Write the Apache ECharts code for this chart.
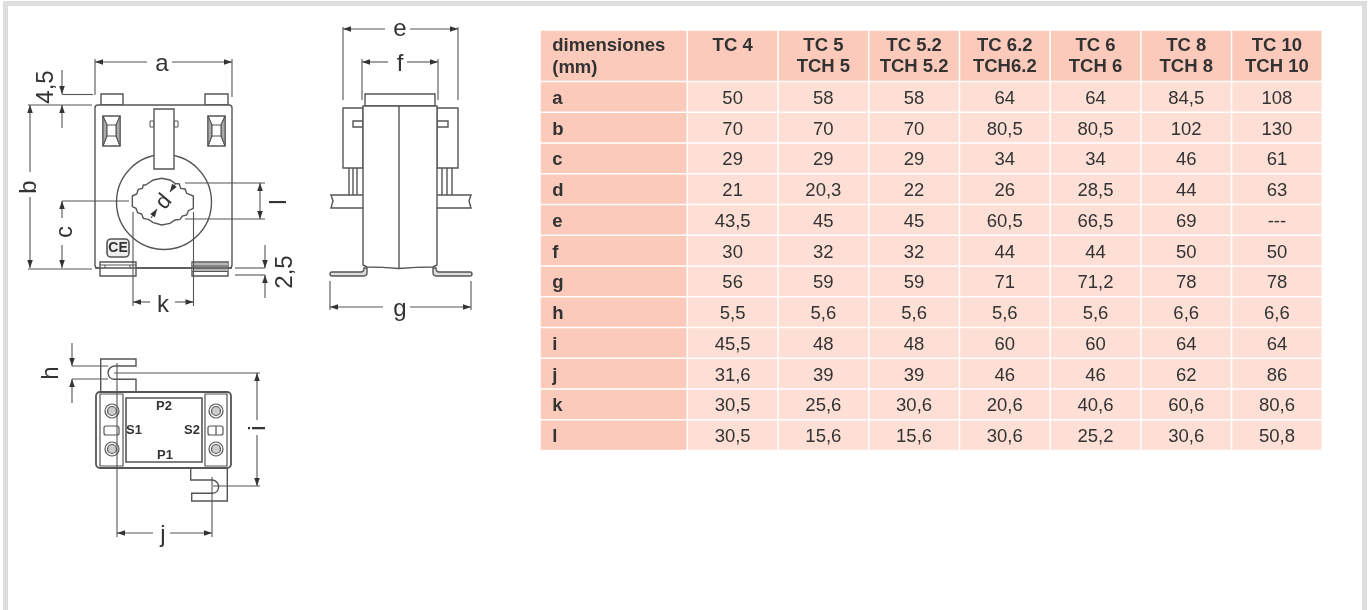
<!DOCTYPE html>
<html><head><meta charset="utf-8">
<style>html,body{margin:0;padding:0;background:#fff}#c{width:1372px;height:610px}</style>
<script src="https://cdn.jsdelivr.net/npm/echarts@6/dist/echarts.min.js"></script>
</head><body><div id="c"></div>
<script>
const cornerLabel = ['dimensiones\n(mm)'];
const models = ['TC 4','TC 5\nTCH 5','TC 5.2\nTCH 5.2','TC 6.2\nTCH6.2','TC 6\nTCH 6','TC 8\nTCH 8','TC 10\nTCH 10'];
const dims = ['a','b','c','d','e','f','g','h','i','j','k','l'];
const tc4  = ['50','70','29','21','43,5','30','56','5,5','45,5','31,6','30,5','30,5'];
const tc5  = ['58','70','29','20,3','45','32','59','5,6','48','39','25,6','15,6'];
const tc52 = ['58','70','29','22','45','32','59','5,6','48','39','30,6','15,6'];
const tc62 = ['64','80,5','34','26','60,5','44','71','5,6','60','46','20,6','30,6'];
const tc6  = ['64','80,5','34','28,5','66,5','44','71,2','5,6','60','46','40,6','25,2'];
const tc8  = ['84,5','102','46','44','69','50','78','6,6','64','62','60,6','30,6'];
const tc10 = ['108','130','61','63','---','50','78','6,6','64','86','80,6','50,8'];
const columns = [tc4,tc5,tc52,tc62,tc6,tc8,tc10];

const FONT = '"Liberation Sans", Arial, sans-serif';
const INK = '#333';
const DARK = '#fccabb', LIGHT = '#fddfd5';

function cellSeries(gridIndex, cells, fill, opts){
  return {
    type:'custom', xAxisIndex:gridIndex, yAxisIndex:gridIndex, silent:true, clip:false,
    data:cells.map(c=>[c[0],c[1]]),
    renderItem(params, api){
      const p = api.coord([api.value(0),api.value(1)]);
      const s = api.size([1,1]);
      const g = 0.75;
      const rect = {x:p[0]-s[0]/2+g,y:p[1]-s[1]/2+g,width:s[0]-2*g,height:s[1]-2*g};
      const text = cells[params.dataIndex][2];
      const tx = opts.left ? rect.x+opts.left : p[0];
      const ty = opts.top ? rect.y+opts.top : p[1]+2;
      return {type:'group',children:[
        {type:'rect',shape:rect,style:{fill:fill}},
        {type:'text',style:{text:text,x:tx,y:ty,fill:INK,align:opts.left?'left':'center',
          verticalAlign:opts.top?'top':'middle',lineHeight:opts.lh||20,
          font:(opts.bold?'bold ':'')+opts.size+'px '+FONT}}
      ]};
    }
  };
}
const grids = [
  {left:540,top:30,width:147.3,height:51.5},
  {left:687.3,top:30,width:635,height:51.5},
  {left:540,top:81.5,width:147.3,height:369},
  {left:687.3,top:81.5,width:635,height:369}
];
const xCats = [cornerLabel,models,['dim'],models];
const yCats = [['h'],['h'],dims,dims];
const bodyCells=[]; columns.forEach((col,i)=>col.forEach((v,j)=>bodyCells.push([i,j,v])));

// ---- technical drawing (decoration, not data) ----
const STROKE='#555', LW=1.4;
const G=[];
let pathN=0;
function L(x1,y1,x2,y2,w,c){G.push({type:'line',silent:true,shape:{x1,y1,x2,y2},style:{stroke:c||STROKE,lineWidth:w||1.1}});}
function R(x,y,width,height,r,fill,w){G.push({type:'rect',silent:true,shape:{x,y,width,height,r:r||0},style:{stroke:STROKE,lineWidth:w||LW,fill:fill||'#fff'}});}
function C(cx,cy,r,fill,w){G.push({type:'circle',silent:true,shape:{cx,cy,r},style:{stroke:STROKE,lineWidth:w||LW,fill:fill||'#fff'}});}
function Poly(points,fill,w){G.push({type:'polygon',silent:true,shape:{points},style:{stroke:w===0?'none':STROKE,lineWidth:w||LW,fill:fill||'#fff'}});}
function P(d,fill,w){const name='dwg'+(pathN++);echarts.graphic.registerShape(name,echarts.graphic.extendPath(d,{}));G.push({type:name,silent:true,style:{stroke:STROKE,lineWidth:w||LW,fill:fill||'none'}});}
function T(text,x,y,size,rot,bold){const dy=size>=20?1.5:0;G.push({type:'text',silent:true,x,y,rotation:(rot||0)*Math.PI/180,originX:0,originY:0,style:{text,x:0,y:dy,align:'center',verticalAlign:'middle',fill:INK,font:(bold?'bold ':'')+size+'px '+FONT}});}
function A(x,y,dx,dy){const l=8,h=2.8,bx=x-dx*l,by=y-dy*l;G.push({type:'polygon',silent:true,shape:{points:[[x,y],[bx-dy*h,by+dx*h],[bx+dy*h,by-dx*h]]},style:{fill:'#333'}});}
function HD(y,x1,x2,g1,g2){L(x1,y,g1,y);L(g2,y,x2,y);A(x1,y,-1,0);A(x2,y,1,0);}
function VD(x,y1,y2,g1,g2){L(x,y1,x,g1);L(x,g2,x,y2);A(x,y1,0,-1);A(x,y2,0,1);}
const LBL=24;

// frame
G.push({type:'rect',silent:true,shape:{x:3,y:1,width:1364,height:5},style:{fill:'#dedede'}});
G.push({type:'rect',silent:true,shape:{x:3,y:1,width:5,height:609},style:{fill:'#dedede'}});
G.push({type:'rect',silent:true,shape:{x:1362,y:1,width:5,height:609},style:{fill:'#dedede'}});

// front view
R(101,94,22,11); R(205,94,23,11);
R(95,105,137,163,3);
[103,208].forEach(x=>{
  R(x,116,17,30,0,'#fff');
  Poly([[x,116],[x+4,125],[x+4,136],[x,146]],'#aaa',1);
  Poly([[x+17,116],[x+13,125],[x+13,136],[x+17,146]],'#aaa',1);
  L(x,116,x+4,125,1); L(x+17,116,x+13,125,1); L(x,146,x+4,136,1); L(x+17,146,x+13,136,1);
  R(x+4,125,9,11,0,'#fff',1.1);
});
C(164,202,47.5);
R(150,121,4,6,0,'#fff',1); R(174,121,4,6,0,'#fff',1);
R(154,109,20,60);
const bore=[[62,45],[85,30],[110,25],[135,30],[150,40],[163,42],[167,55],[180,57],[185,70],[205,78],[205,115],[190,122],[185,135],[172,138],[165,148],[150,150],[135,160],[110,165],[85,158],[70,148],[55,145],[50,132],[38,128],[33,115],[22,110],[22,78],[35,72],[40,58],[52,55],[55,45]];
Poly(bore.map(p=>[125+p[0]/3,170+p[1]/3]),'#fff');
R(100,262,36,14,0,'#fff'); L(100,265,136,265,1); L(105,265,105,268,1); L(130,265,130,268,1);
R(192,262,36,14,0,'#fff');
G.push({type:'rect',silent:true,shape:{x:192,y:263,width:36,height:9},style:{fill:'#b5b5b5'}});
L(192,266,228,266,1); L(192,271.5,228,271.5,1);
L(95,268,232,268,LW);
R(107,239,22,18,4,'#eee',1.6);
T('CE',118,248.5,14,0,true);
// front dims
HD(62,95,232,147,172); L(95,59,95,95); L(232,59,232,97); T('a',162,63,LBL);
L(62,94.5,93,94.5); L(62,70,62,94); A(62,94,0,1); L(62,105,62,128); A(62,105,0,-1); T('4,5',45,87,LBL,90);
L(28,105,92,105); L(28,269,92,269);
VD(30,105,268,172,197); T('b',28,187,LBL,90);
L(62,201,129,201); VD(62,201,268,218,245); T('c',64,232,LBL,90);
L(133,212,133,306); L(193.5,212,193.5,306);
HD(302,133,193.5,150,175); T('k',163,304,LBL);
L(185,183,265,183); L(185,219,265,219); L(260,183,260,219); A(260,183,0,-1); A(260,219,0,1);
T('l',278,202,LBL,90);
L(235,268,265,268); L(235,275,265,275); L(265,245,265,268); A(265,268,0,1); L(265,275,265,298); A(265,275,0,-1);
T('2,5',284,272,LBL,90);
L(176,183,170,192); A(170,192,-0.55,0.83); L(151,218,157,209); A(157,209,0.55,-0.83);
T('d',163,201,22,50);

// side view
R(365,94,70,12);
R(343,108,20,60); R(437,108,21,60);
R(353,121,10,6); R(437,121,11,6);
[349,353,357].forEach(x=>L(x,168,x,195,LW));
[442,447,452].forEach(x=>L(x,168,x,195,LW));
P('M363 195 L331 195 L333 201 L331 208 L363 208','#fff');
P('M437 195 L471 195 L469 201 L471 208 L437 208','#fff');
P('M330 274 Q330 272 332 272 L361 272 Q364 272 364 268 L367 268 L367 273 Q367 276 363 276 L332 276 Q330 276 330 274 Z','#ddd');
P('M472 274 Q472 272 470 272 L439 272 Q436 272 436 268 L433 268 L433 273 Q433 276 437 276 L470 276 Q472 276 472 274 Z','#ddd');
P('M363 106 L437 106 L437 265 L433 267 Q416 267 399 268.5 Q382 267 367 267 L363 265 Z','#fff');
L(399,106,399,268,LW);
HD(29,343,458,385,410); L(343,27,343,100); L(458,27,458,100); T('e',400,28,LBL);
HD(62,362,438,388,407); L(362,59,362,100); L(438,59,438,100); T('f',400,63,LBL);
HD(307,330,471,383,410); L(330,281,330,310); L(471,281,471,310); T('g',400,308,LBL);

// bottom view
P('M100.7 392 L100.7 359 L136 359 L136 366 L114 366 A6.7 6.7 0 0 0 114 379.3 L136 379.3 L136 392 Z','#fff');
P('M190.7 468 L190.7 480 L212.7 480 A6.7 6.7 0 0 1 212.7 493.3 L191.7 493.3 L191.7 501 L227.3 501 L227.3 468 Z','#fff');
R(96,392,135,76,4,'#fff',1.8);
R(100,394,23,72,0,'#fff',1.2); R(205,394,22,72,0,'#fff',1.2);
R(126,398,76,64,0,'#fff',1.6);
[[112,411],[112,449],[216,411],[216,449]].forEach(p=>{C(p[0],p[1],7,'#fff',1.2);C(p[0],p[1],4.5,'#ccc',1.2);});
R(104,426,15,9,2,'#fff',1.2); R(208,426,15,9,2,'#fff',1.2); L(216,426,216,435,1.2);
T('S1',134,430,13,0,true); T('S2',192,430,13,0,true); T('P2',164,406,13,0,true); T('P1',165,455,13,0,true);
L(72,366,108,366); L(72,379,108,379);
L(72,343,72,366); A(72,366,0,1); L(72,379,72,403); A(72,379,0,-1); T('h',50,373,LBL,90);
L(114,373,260,373); L(213,486,260,486);
VD(257,373,486,420,435); T('i',257,428,LBL,90);
L(117,363,117,537); L(212,477,212,537);
HD(533,117,212,153,170); T('j',163,534,LBL);

const chart = echarts.init(document.getElementById('c'),null,{renderer:'canvas'});
chart.setOption({
  animation:false,
  backgroundColor:'#fff',
  grid:grids,
  xAxis:xCats.map((d,i)=>({type:'category',gridIndex:i,data:d,show:false})),
  yAxis:yCats.map((d,i)=>({type:'category',gridIndex:i,data:d,inverse:true,show:false})),
  series:[
    cellSeries(0,[[0,0,cornerLabel[0]]],DARK,{bold:true,size:18.5,left:11.5,top:4,lh:22}),
    cellSeries(1,models.map((m,i)=>[i,0,m]),DARK,{bold:true,size:18.5,top:4.5,lh:21}),
    cellSeries(2,dims.map((d,j)=>[0,j,d]),DARK,{bold:true,size:18.5,left:11.5}),
    cellSeries(3,bodyCells,LIGHT,{size:18.5})
  ],
  graphic:{elements:G}
});
</script></body></html>
